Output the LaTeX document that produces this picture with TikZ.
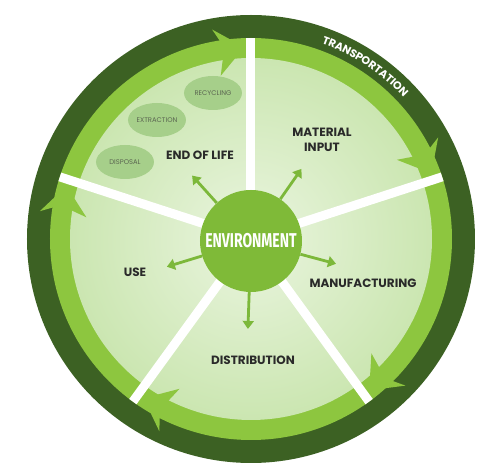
\documentclass[tikz,border=0pt]{standalone}
\usepackage{fontspec}
\setmainfont{Poppins}
\newfontfamily\envfont[FakeStretch=0.7]{Fira Sans}
\usetikzlibrary{shapes.geometric,arrows.meta,decorations.text}
\definecolor{ringdark}{HTML}{3C6123}
\definecolor{ringlight}{HTML}{8DC63F}
\definecolor{paleinner}{HTML}{EAF5DF}
\definecolor{paleouter}{HTML}{CBE6B1}
\definecolor{envgreen}{HTML}{7FBA38}
\definecolor{arrowgreen}{HTML}{7CB83A}
\definecolor{stagegray}{HTML}{2A2A2A}
\definecolor{bubblegreen}{HTML}{A6CF8A}
\definecolor{bubbletext}{HTML}{5B6651}
\begin{document}
\begin{tikzpicture}[x=1pt,y=1pt,
    stage/.style={font=\bfseries\fontsize{12}{15}\selectfont,text=stagegray,align=center},
    bubble/.style={ellipse,fill=bubblegreen,text=bubbletext,inner sep=0pt,
      minimum width=58pt,minimum height=34pt,font=\fontsize{6.8}{7}\selectfont},
    outarrow/.style={draw=arrowgreen,line width=2.8pt,-{Triangle[length=8pt,width=11pt]}}]
  \useasboundingbox (-251,-234) rectangle (253,239);
  \fill[ringdark] (0,0) circle (224);
  \fill[ringlight] (0,0) circle (201);
  \shade[inner color=paleinner,outer color=paleouter] (0,0) circle (181);
  \foreach \a in {90,18,-54,-126,162}{
    \draw[white,line width=9pt] (0,0) -- (\a:201);
    \fill[ringlight] (\a+10.5:213) -- (\a+2:192) -- (\a+10.5:166) -- (\a+9:181)
      -- (\a+9:201) -- cycle;
  }
  \path[decorate,decoration={text along path,text align=center,raise=-4pt,text color=white,
      text={|\bfseries\fontsize{11}{11}\selectfont|TRANSPORTATION}}]
    (75:212) arc[start angle=75,end angle=38,radius=212];

  \node[circle,fill=envgreen,minimum size=102pt,inner sep=0pt,text=white,
    font=\envfont\bfseries\fontsize{20}{20}\selectfont] (env) at (0,-2) {ENVIRONMENT};

  \node[stage] (eol) at (-51,84) {END OF LIFE};
  \node[stage] (input) at (71,99) {MATERIAL\\INPUT};
  \node[stage] (manu) at (112,-44) {MANUFACTURING};
  \node[stage] (distr) at (2,-121) {DISTRIBUTION};
  \node[stage] (use) at (-116,-33) {USE};

  \node[bubble] (recycling) at (-38,146) {RECYCLING};
  \node[bubble] (extraction) at (-94,119) {EXTRACTION};
  \node[bubble] (disposal) at (-126,77) {DISPOSAL};

  \foreach \a/\n in {132/eol,55/input,-15/manu,-92/distr,197/use}{
    \coordinate (tip-\n) at ([shift={(\a:88)}]env.center);
    \draw[outarrow] (env.\a) -- (tip-\n);
  }
\end{tikzpicture}
\end{document}
